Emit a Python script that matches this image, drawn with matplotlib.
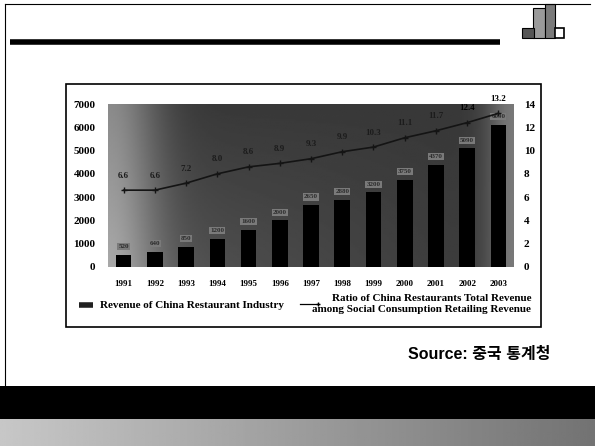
import matplotlib
matplotlib.use("Agg")
import matplotlib.pyplot as plt
from matplotlib.patches import Rectangle
from matplotlib.lines import Line2D
import numpy as np

years = ['1991', '1992', '1993', '1994', '1995', '1996', '1997',
         '1998', '1999', '2000', '2001', '2002', '2003']
revenue = [520, 640, 850, 1200, 1600, 2000, 2650, 2880, 3200, 3750, 4370, 5090, 6090]
ratio = [6.6, 6.6, 7.2, 8.0, 8.6, 8.9, 9.3, 9.9, 10.3, 11.1, 11.7, 12.4, 13.2]
left_ticks = [0, 1000, 2000, 3000, 4000, 5000, 6000, 7000]
right_ticks = [0, 2, 4, 6, 8, 10, 12, 14]
legend_bar = 'Revenue of China Restaurant Industry'
legend_line = 'Ratio of China Restaurants Total Revenue\namong Social Consumption Retailing Revenue'
source_text = 'Source: 중국 통계청'

W, H = 595, 446
serif = 'Liberation Serif'

def fx(px):
    return px / W

def fy(py):
    return 1 - py / H

fig = plt.figure(figsize=(W / 100, H / 100), dpi=100)
fig.patch.set_facecolor('white')

# slide decoration
fig.add_artist(Line2D([fx(5), fx(5)], [fy(4), fy(386)], color='black', lw=0.8))
fig.add_artist(Line2D([fx(5), fx(590)], [fy(4), fy(4)], color='black', lw=0.8))
fig.add_artist(Line2D([fx(10), fx(500)], [fy(42), fy(42)], color='black', lw=4, solid_capstyle='butt'))
fig.add_artist(Rectangle((0, fy(419)), 1, (419 - 386) / H, color='black', lw=0))
grad = np.linspace(0.78, 0.45, 256).reshape(1, -1)
bax = fig.add_axes([0, 0, 1, fy(419)])
bax.imshow(grad, cmap='gray', vmin=0, vmax=1, aspect='auto', extent=[0, 1, 0, 1])
bax.axis('off')

# logo
fig.add_artist(Rectangle((fx(533), fy(38)), fx(12), 30 / H, facecolor='#9a9a9a', edgecolor='black', lw=0.8))
fig.add_artist(Rectangle((fx(545), fy(38)), fx(10), 34 / H, facecolor='#7a7a7a', edgecolor='black', lw=0.8))
fig.add_artist(Rectangle((fx(522), fy(38)), fx(12), 10 / H, facecolor='#555555', edgecolor='black', lw=0.8))
fig.add_artist(Rectangle((fx(555), fy(38)), fx(9), 10 / H, facecolor='white', edgecolor='black', lw=1.2))

# chart frame
fig.add_artist(Rectangle((fx(66), fy(327)), fx(541 - 66), (327 - 84) / H,
                         fill=False, edgecolor='black', lw=1.2))

ax = fig.add_axes([fx(108), fy(267), fx(514 - 108), (267 - 104) / H])
ax2 = ax.twinx()
ax.set_zorder(1)
ax2.set_zorder(2)
ax2.patch.set_visible(False)

# dark, uneven plot background like the scanned slide
gx = np.linspace(0, 1, 200)
gy = np.linspace(0, 1, 100)
GX, GY = np.meshgrid(gx, gy)
shade = 0.22 + 0.32 * np.exp(-((GX - 0.0) ** 2) / 0.015) + 0.25 * np.exp(-((GX - 1.0) ** 2) / 0.004) \
    + 0.12 * (1 - GY) * (1 - GX)
ax.imshow(shade, cmap='gray', vmin=0, vmax=1, aspect='auto', origin='lower',
          extent=[-0.5, len(years) - 0.5, 0, 7000], zorder=0)

x = np.arange(len(years))
ax.bar(x, revenue, width=0.5, color='black', zorder=3)
for xi, v in zip(x, revenue):
    ax.text(xi, v + 250, str(v), ha='center', va='bottom', fontsize=5, color='#2a2a2a',
            family=serif, fontweight='bold', zorder=4,
            bbox=dict(boxstyle='square,pad=0.15', facecolor='#7a7a7a', edgecolor='none'))

ax2.plot(x, ratio, color='#141414', lw=1.2, marker='+', ms=4, mew=1)
for xi, v in zip(x, ratio):
    ax2.text(xi, v + 0.9, f'{v:.1f}', ha='center', va='bottom', fontsize=6.5,
             color='black' if v > 12 else '#1c1c1c', family=serif, fontweight='bold')

ax.set_xlim(-0.5, len(years) - 0.5)
ax.set_ylim(0, 7000)
ax2.set_ylim(0, 14)
ax.set_xticks(x)
ax.set_xticklabels(years)
ax.set_yticks(left_ticks)
ax2.set_yticks(right_ticks)
for a in (ax, ax2):
    for s in a.spines.values():
        s.set_visible(False)
ax.tick_params(axis='y', length=0, pad=9, labelsize=8)
ax.tick_params(axis='x', length=0, pad=9, labelsize=6.5)
ax2.tick_params(axis='y', length=0, pad=7, labelsize=8)
for lab in ax.get_xticklabels() + ax.get_yticklabels() + ax2.get_yticklabels():
    lab.set_family(serif)
    lab.set_fontweight('bold')

# legend
fig.add_artist(Line2D([fx(79), fx(93)], [fy(305), fy(305)], color='#202020', lw=4, solid_capstyle='butt'))
fig.text(fx(100), fy(305), legend_bar, fontsize=8, family=serif, fontweight='bold', va='center')
fig.add_artist(Line2D([fx(300), fx(318)], [fy(304), fy(304)], color='black', lw=0.9,
                      marker='+', markevery=[1], ms=3))
fig.text(fx(531), fy(304), legend_line, fontsize=8, family=serif, fontweight='bold',
         va='center', ha='right', linespacing=1.25)

fig.text(fx(551), fy(355), source_text, fontsize=11.5, fontweight='bold', ha='right', va='center',
         family=['Liberation Sans', 'Noto Sans CJK KR'])

fig.savefig('out.png', dpi=100)
